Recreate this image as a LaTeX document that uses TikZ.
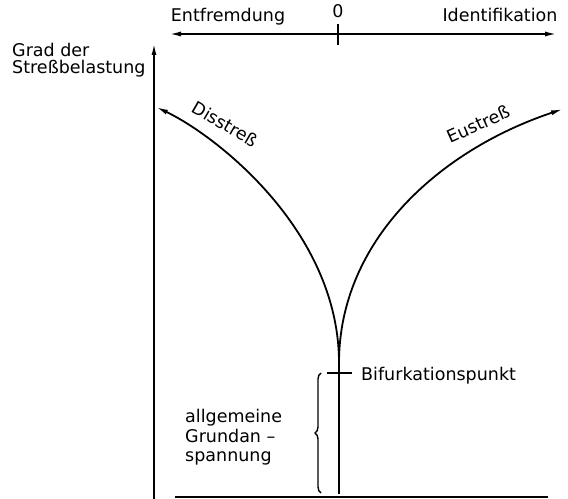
\documentclass[tikz,border=0pt]{standalone}
\usepackage{fontspec}
\setmainfont{DejaVu Sans}
\usetikzlibrary{arrows.meta,decorations.pathreplacing}

\tikzset{
  axis/.style={line width=1.8bp},
  arr/.style={-{Latex[length=12bp,width=5bp]}},
  lbl/.style={inner sep=0pt},
}

\begin{document}
\begin{tikzpicture}[x=1bp,y=-1bp,font=\fontsize{17.5bp}{19bp}\selectfont]
    \useasboundingbox (0,0) rectangle (568,499);
    \coordinate (yb) at (154,499);
    \coordinate (yt) at (154,43);
    \coordinate (xl) at (169,34);
    \coordinate (xr) at (557,34);
    \coordinate (x0) at (338,34);
    \coordinate (cusp) at (339,363);
    \coordinate (bif) at (339,373);
    \coordinate (base) at (339,494);
    \coordinate (lend) at (156,107);
    \coordinate (rend) at (563,109);
    \draw[axis,arr] (yb) -- (yt);
    \draw[axis,{Latex[length=12bp,width=5bp]}-{Latex[length=12bp,width=5bp]}] (xl) -- (xr);
    \draw[line width=2.2bp] ([yshift=-11]x0) -- ([yshift=10]x0);
    \draw[axis] (175,497) -- (548,497);
    \draw[axis] (cusp) -- (base);
    \draw[axis] ([xshift=-12]bif) -- ([xshift=13]bif);
    \draw[axis,arr] (cusp) .. controls (339,230) and (215,135) .. (lend);
    \draw[axis,arr] (cusp) .. controls (339,240) and (440,150) .. (rend);
    \draw[line width=1.4bp,decorate,decoration={brace,amplitude=6bp}] (321,493) -- (321,373);
    \node[lbl,anchor=base] (entf) at (228,22) {Entfremdung};
    \node[lbl,anchor=base] (null) at (338,18) {0};
    \node[lbl,anchor=base] (ident) at (500,22) {Identifikation};
    \node[lbl,anchor=base west] (grad) at (12,57) {Grad der};
    \node[lbl,anchor=base west] (stress) at (12,74) {Streßbelastung};
    \node[lbl,rotate=-30] (diss) at (225,124) {Disstreß};
    \node[lbl,rotate=24] (eu) at (478,124) {Eustreß};
    \node[lbl,anchor=base west] (bifp) at (361,380) {Bifurkationspunkt};
    \node[lbl,anchor=base west] (allg) at (185,422) {allgemeine};
    \node[lbl,anchor=base west] (grund) at (185,442) {Grundan –};
    \node[lbl,anchor=base west] (spann) at (185,461) {spannung};
  \end{tikzpicture}
\end{document}
